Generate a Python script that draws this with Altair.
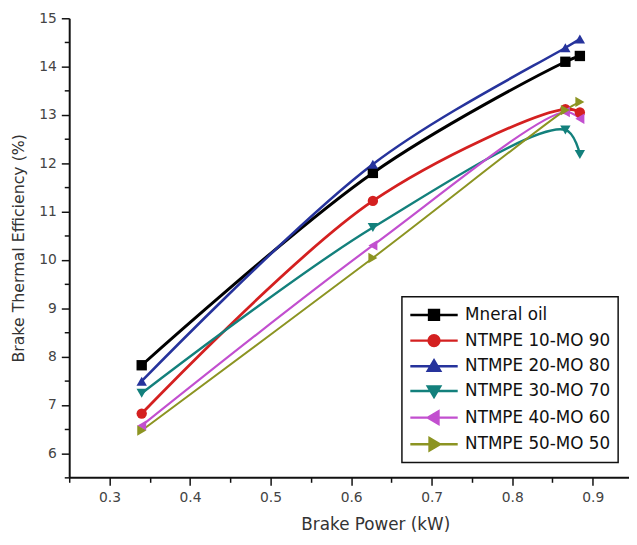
import altair as alt
import pandas as pd

series = ["Mneral oil", "NTMPE 10-MO 90", "NTMPE 20-MO 80",
          "NTMPE 30-MO 70", "NTMPE 40-MO 60", "NTMPE 50-MO 50"]
power = [0.34, 0.627, 0.866, 0.884]
bte = {
    "Mneral oil":     [7.82, 11.80, 14.10, 14.22],
    "NTMPE 10-MO 90": [6.82, 11.22, 13.12, 13.05],
    "NTMPE 20-MO 80": [7.49, 11.98, 14.39, 14.57],
    "NTMPE 30-MO 70": [7.24, 10.67, 12.69, 12.18],
    "NTMPE 40-MO 60": [6.57, 10.30, 13.06, 12.92],
    "NTMPE 50-MO 50": [6.47, 10.04, 13.10, 13.27],
}
colors = ["#000000", "#d42020", "#26339c", "#13807c", "#c24fcf", "#8c9422"]
shapes = ["square", "circle", "triangle-up", "triangle-down", "triangle-left", "triangle-right"]
widths = [3, 2, 3, 2, 3, 2]
x_major = [0.3, 0.4, 0.5, 0.6, 0.7, 0.8, 0.9]
x_minor = [0.25, 0.35, 0.45, 0.55, 0.65, 0.75, 0.85, 0.95]
y_major = [6, 7, 8, 9, 10, 11, 12, 13, 14, 15]
y_minor = [5.5, 6.5, 7.5, 8.5, 9.5, 10.5, 11.5, 12.5, 13.5, 14.5]

rows = []
for s in series:
    for p, v in zip(power, bte[s]):
        rows.append({"series": s, "power": p, "bte": v})
df = pd.DataFrame(rows)

legend_paths = [
    "M-2.4,0H2.4M-0.5,-0.5H0.5V0.5H-0.5Z",
    "M-2.4,0H2.4M0.55,0A0.55,0.55,0,1,1,-0.55,0A0.55,0.55,0,1,1,0.55,0Z",
    "M-2.4,0H2.4M0,-0.6L0.62,0.45L-0.62,0.45Z",
    "M-2.4,0H2.4M0,0.6L0.62,-0.45L-0.62,-0.45Z",
    "M-2.4,0H2.4M-0.6,0L0.45,-0.62L0.45,0.62Z",
    "M-2.4,0H2.4M0.6,0L-0.45,-0.62L-0.45,0.62Z",
]

xscale = alt.Scale(domain=[0.25, 0.945], nice=False, zero=False)
yscale = alt.Scale(domain=[5.5, 15], nice=False, zero=False)

font = "DejaVu Sans"

lines = alt.Chart(df).mark_line(interpolate="catmull-rom").encode(
    x=alt.X("power:Q", scale=xscale, axis=alt.Axis(
        values=x_major, format=".1f", title="Brake Power (kW)", grid=False,
        domainColor="#111", domainWidth=2, tickColor="#111", tickWidth=1.5, tickSize=8,
        labelFontSize=14, labelColor="#444", labelPadding=5, labelFont=font,
        titleFontSize=17, titleFontWeight="normal", titleColor="#333", titleFont=font,
        titlePadding=13, titleX=310, titleAnchor="middle")),
    y=alt.Y("bte:Q", scale=yscale, axis=alt.Axis(
        values=y_major, format="d", title="Brake Thermal Efficiency (%)", grid=False,
        domainColor="#111", domainWidth=2, tickColor="#111", tickWidth=1.5, tickSize=8,
        labelFontSize=14, labelColor="#444", labelPadding=5, labelFont=font,
        titleFontSize=16, titleFontWeight="normal", titleColor="#333", titleFont=font,
        titlePadding=12)),
    color=alt.Color("series:N", scale=alt.Scale(domain=series, range=colors), legend=None),
    strokeWidth=alt.StrokeWidth("series:N", scale=alt.Scale(domain=series, range=widths), legend=None),
    detail="series:N",
)

points = alt.Chart(df).mark_point(filled=True, opacity=1, size=110).encode(
    x=alt.X("power:Q", scale=xscale, axis=alt.Axis(
        values=x_minor, labels=False, domain=False, ticks=True, tickSize=5,
        tickColor="#111", tickWidth=1.5, title=None, grid=False, orient="bottom")),
    y=alt.Y("bte:Q", scale=yscale, axis=alt.Axis(
        values=y_minor, labels=False, domain=False, ticks=True, tickSize=5,
        tickColor="#111", tickWidth=1.5, title=None, grid=False, orient="left")),
    color=alt.Color("series:N", scale=alt.Scale(domain=series, range=colors), legend=None),
    shape=alt.Shape("series:N", scale=alt.Scale(domain=series, range=shapes), legend=None),
)

leg = dict(
    title=None, orient="none", legendX=337, legendY=282,
    strokeColor="#111", fillColor="white", padding=7,
    symbolSize=400, symbolStrokeWidth=2.5, symbolOffset=14,
    labelFontSize=17, labelFont=font, labelColor="#111", labelOffset=20,
    rowPadding=4, labelLimit=400,
)

# legend-only layer: no data rows survive the filter, the legend comes from the scales' domains
legend_layer = alt.Chart(df).transform_filter("datum.power > 100").mark_point(
    filled=False, opacity=1, size=400, strokeWidth=2.5
).encode(
    x=alt.X("power:Q", scale=xscale, axis=None),
    y=alt.Y("bte:Q", scale=yscale, axis=None),
    stroke=alt.Stroke("series:N", scale=alt.Scale(domain=series, range=colors), legend=alt.Legend(**leg)),
    fill=alt.Fill("series:N", scale=alt.Scale(domain=series, range=colors), legend=alt.Legend(**leg)),
    shape=alt.Shape("series:N", scale=alt.Scale(domain=series, range=legend_paths), legend=alt.Legend(**leg)),
)

chart = alt.layer(lines, points, legend_layer).resolve_axis(
    x="independent", y="independent"
).resolve_scale(color="independent", shape="independent", strokeWidth="independent",
                stroke="independent", fill="independent").properties(
    width=567, height=465,
    autosize=alt.AutoSizeParams(type="none"),
    padding={"left": 62, "top": 7, "right": 0, "bottom": 57},
).configure_view(stroke=None).configure_legend(strokeWidth=1.5)

chart.save("out.html", embed_options={"renderer": "svg", "actions": False})
